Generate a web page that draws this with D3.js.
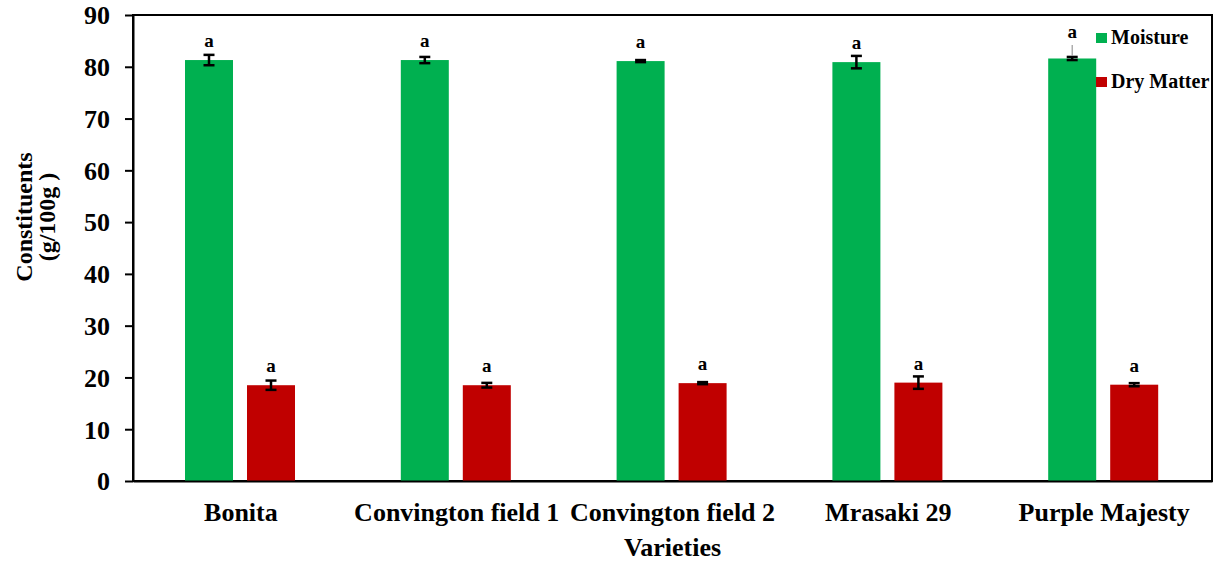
<html>
<head>
<script src="https://d3js.org/d3.v7.min.js"></script>
<style>
    body { margin: 0; background: #fff; }
    text { font-family: "Liberation Serif", "Times New Roman", serif; font-weight: bold; fill: #000; }
</style>
</head>
<body>
<svg width="1221" height="563"></svg>
<script>
    // data
    var varieties = ["Bonita", "Convington field 1", "Convington field 2", "Mrasaki 29", "Purple Majesty"];
    var seriesNames = ["Moisture", "Dry Matter"];
    var seriesColors = ["#00B050", "#C00000"];
    var moisture = [81.3, 81.3, 81.1, 80.9, 81.6];
    var moistureErr = [1.0, 0.6, 0.2, 1.2, 0.3];
    var dryMatter = [18.5, 18.5, 18.9, 19.0, 18.6];
    var dryMatterErr = [0.9, 0.45, 0.2, 1.2, 0.3];
    var moistureLetters = ["a", "a", "a", "a", "a"];
    var dryMatterLetters = ["a", "a", "a", "a", "a"];
    var yTicks = [0, 10, 20, 30, 40, 50, 60, 70, 80, 90];

    var svg = d3.select("svg");
    var plotL = 133, plotR = 1212, plotT = 15, plotB = 481;

    var x0 = d3.scaleBand().domain(varieties).range([plotL, plotR]);
    var x1 = d3.scaleBand().domain(seriesNames).range([52, 162]).paddingInner(14 / 62);
    var y = d3.scaleLinear().domain([0, 90]).range([plotB, plotT]);

    // frame (top + right)
    svg.append("rect")
        .attr("x", plotL).attr("y", plotT)
        .attr("width", plotR - plotL).attr("height", plotB - plotT)
        .attr("fill", "none").attr("stroke", "#000").attr("stroke-width", 2);

    var rows = [];
    varieties.forEach(function (v, i) {
        rows.push({ v: v, s: "Moisture", val: moisture[i], err: moistureErr[i], letter: moistureLetters[i], c: seriesColors[0], i: i });
        rows.push({ v: v, s: "Dry Matter", val: dryMatter[i], err: dryMatterErr[i], letter: dryMatterLetters[i], c: seriesColors[1], i: i });
    });

    var g = svg.append("g");
    g.selectAll("rect.bar").data(rows).enter().append("rect")
        .attr("class", "bar")
        .attr("x", function (d) { return x0(d.v) + x1(d.s); })
        .attr("y", function (d) { return y(d.val); })
        .attr("width", x1.bandwidth())
        .attr("height", function (d) { return plotB - y(d.val); })
        .attr("fill", function (d) { return d.c; });

    // error bars
    var cx = function (d) { return x0(d.v) + x1(d.s) + x1.bandwidth() / 2; };
    var eb = g.selectAll("g.err").data(rows).enter().append("g").attr("class", "err")
        .attr("stroke", "#000").attr("stroke-width", 2.5);
    eb.append("line")
        .attr("x1", cx).attr("x2", cx)
        .attr("y1", function (d) { return y(d.val + d.err); })
        .attr("y2", function (d) { return y(d.val - d.err); });
    eb.append("line")
        .attr("x1", function (d) { return cx(d) - 5.5; }).attr("x2", function (d) { return cx(d) + 5.5; })
        .attr("y1", function (d) { return y(d.val + d.err); })
        .attr("y2", function (d) { return y(d.val + d.err); });
    eb.append("line")
        .attr("x1", function (d) { return cx(d) - 5.5; }).attr("x2", function (d) { return cx(d) + 5.5; })
        .attr("y1", function (d) { return y(d.val - d.err); })
        .attr("y2", function (d) { return y(d.val - d.err); });

    // significance letters (last moisture label moved up with a leader line)
    var isMoved = function (d) { return d.s == "Moisture" && d.i == varieties.length - 1; };
    g.selectAll("text.letter").data(rows).enter().append("text")
        .attr("class", "letter")
        .attr("x", cx)
        .attr("y", function (d) { return isMoved(d) ? 38 : y(d.val) - 13; })
        .attr("text-anchor", "middle")
        .style("font-size", "19px")
        .text(function (d) { return d.letter; });
    g.selectAll("line.leader").data(rows.filter(isMoved)).enter().append("line")
        .attr("class", "leader")
        .attr("x1", cx).attr("x2", cx)
        .attr("y1", 45).attr("y2", function (d) { return y(d.val + d.err) - 1; })
        .attr("stroke", "#999").attr("stroke-width", 1.2);

    // y axis
    var ya = svg.append("g")
        .attr("transform", "translate(" + plotL + ",0)")
        .call(d3.axisLeft(y).tickValues(yTicks).tickSize(8).tickSizeOuter(0).tickPadding(15));
    ya.select(".domain").attr("stroke-width", 2);
    ya.selectAll(".tick line").attr("stroke-width", 2);
    ya.selectAll("text").style("font-size", "26px").attr("dy", "0.34em");

    // x axis
    var xa = svg.append("g")
        .attr("transform", "translate(0," + plotB + ")")
        .call(d3.axisBottom(x0).tickSize(0).tickSizeOuter(0).tickPadding(22));
    xa.select(".domain").attr("stroke-width", 2);
    xa.selectAll("text").style("font-size", "26px");

    // axis titles
    svg.append("text")
        .attr("x", (plotL + plotR) / 2).attr("y", 556)
        .attr("text-anchor", "middle")
        .style("font-size", "26px")
        .text("Varieties");
    var yt = svg.append("text")
        .attr("transform", "translate(0,217) rotate(-90)")
        .attr("text-anchor", "middle")
        .style("font-size", "24px");
    yt.append("tspan").attr("x", 0).attr("y", 32).text("Constituents");
    yt.append("tspan").attr("x", 0).attr("y", 55).text("(g/100g )");

    // legend
    var lg = svg.append("g").selectAll("g").data(seriesNames).enter().append("g")
        .attr("transform", function (d, i) { return "translate(1096," + (33 + i * 44) + ")"; });
    lg.append("rect").attr("width", 11).attr("height", 10)
        .attr("fill", function (d, i) { return seriesColors[i]; });
    lg.append("text").attr("x", 15).attr("y", 11)
        .style("font-size", "20px")
        .text(function (d) { return d; });
</script>
</body>
</html>
